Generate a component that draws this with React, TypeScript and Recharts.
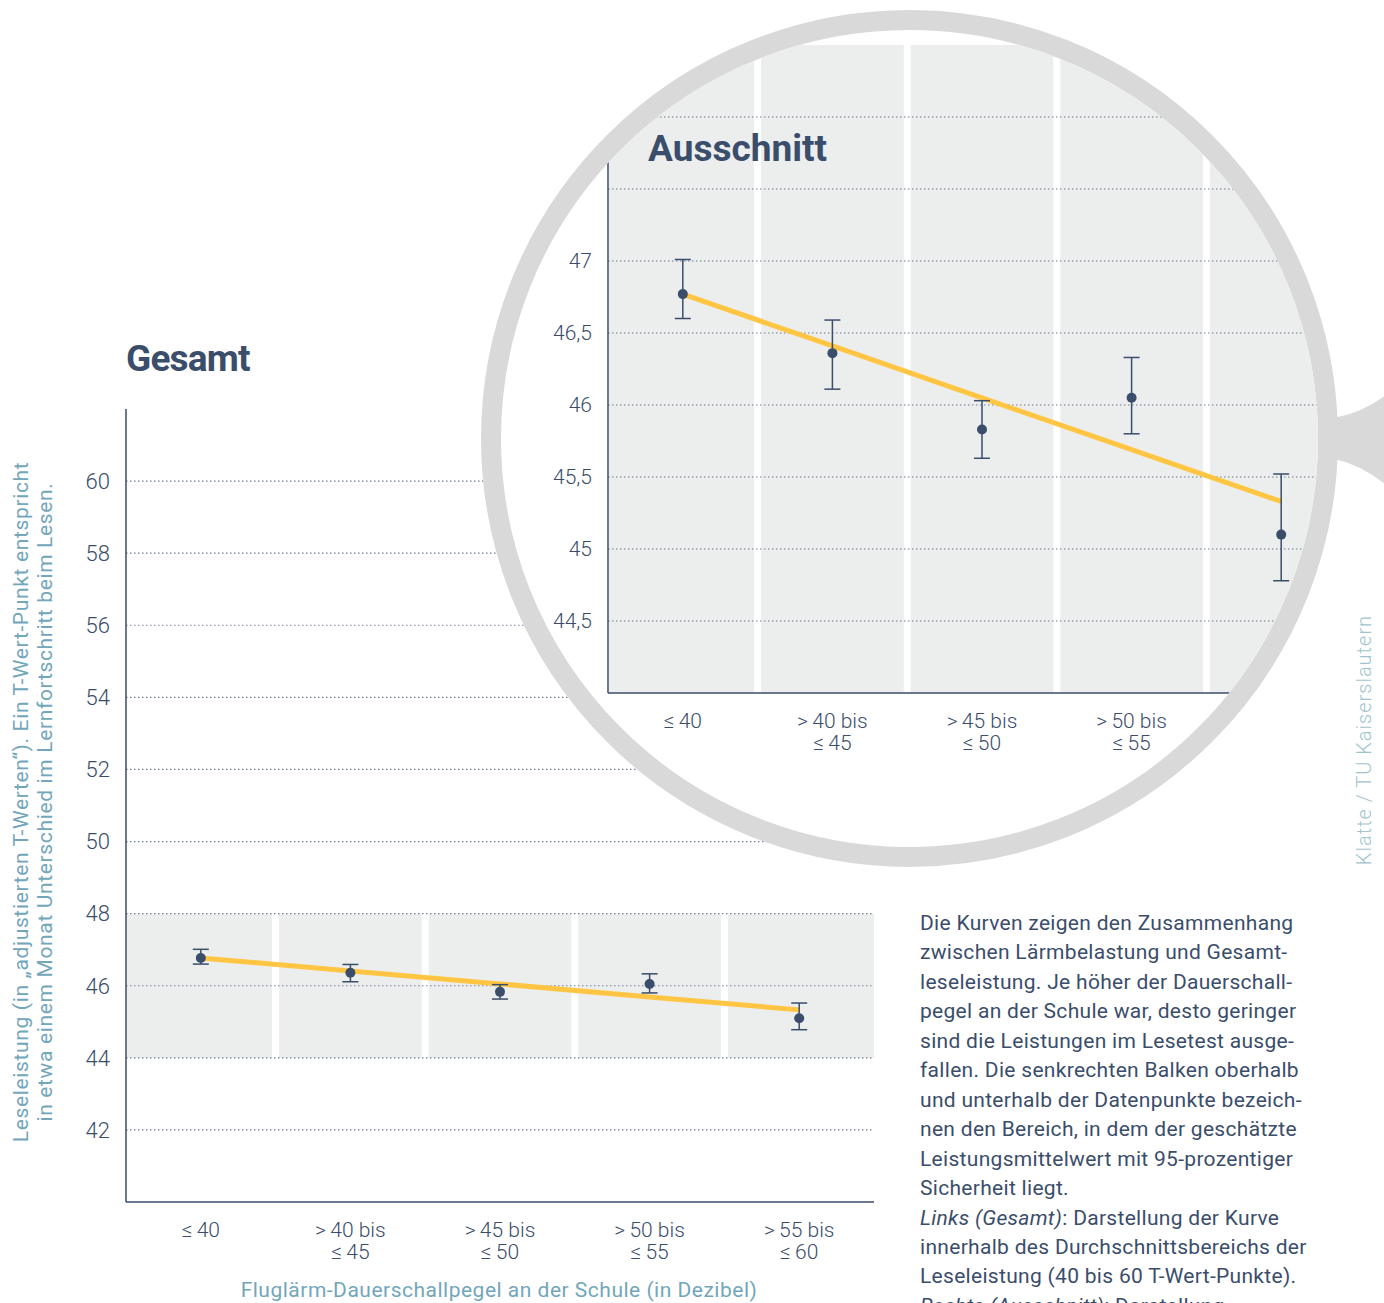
import React from "react"
import {
  ComposedChart,
  XAxis,
  YAxis,
  Line,
  Scatter,
  ErrorBar,
  ReferenceArea,
  ReferenceLine,
} from "recharts"

// categories: Fluglärm-Dauerschallpegel in dB
const CATEGORIES = [
  "≤\u200940",
  ">\u200940 bis\n≤\u200945",
  ">\u200945 bis\n≤\u200950",
  ">\u200950 bis\n≤\u200955",
  ">\u200955 bis\n≤\u200960",
]
const MEANS = [46.77, 46.36, 45.83, 46.05, 45.1]
const CI_LOW = [46.6, 46.11, 45.63, 45.8, 44.78]
const CI_HIGH = [47.01, 46.59, 46.03, 46.33, 45.52]
const TREND = [46.77, 46.41, 46.05, 45.69, 45.33]

const MAIN_TICKS = [42, 44, 46, 48, 50, 52, 54, 56, 58, 60]
const ZOOM_TICKS = [44.5, 45, 45.5, 46, 46.5, 47, 47.5, 48]

const TEXT_LINES = [
  "Die Kurven zeigen den Zusammenhang",
  "zwischen Lärmbelastung und Gesamt-",
  "leseleistung. Je höher der Dauerschall-",
  "pegel an der Schule war, desto geringer",
  "sind die Leistungen im Lesetest ausge-",
  "fallen. Die senkrechten Balken oberhalb",
  "und unterhalb der Datenpunkte bezeich-",
  "nen den Bereich, in dem der geschätzte",
  "Leistungsmittelwert mit 95-prozentiger",
  "Sicherheit liegt.",
]

const NAVY = "#3a4d6b"
const YELLOW = "#ffc543"
const BAND = "#eceeed"
const GRID = "#6f7d95"
const TEAL = "#72a6ba"
const CREDIT = "#9fc4d0"
const RING = "#d9d9d9"
const FONT = "Roboto, 'Noto Sans', sans-serif"

const rows = CATEGORIES.map((cat, i) => ({
  cat,
  mean: MEANS[i],
  err: [MEANS[i] - CI_LOW[i], CI_HIGH[i] - MEANS[i]],
  trend: TREND[i],
}))

function CatTick(props: any) {
  const { x, y, payload } = props
  const lines = String(payload.value).split("\n")
  return (
    <text
      x={x}
      y={y}
      textAnchor="middle"
      fill={NAVY}
      fontSize={21}
      fontWeight={300}
      fontFamily={FONT}
    >
      {lines.map((l, i) => (
        <tspan key={i} x={x} dy={i === 0 ? 35 : 22}>
          {l}
        </tspan>
      ))}
    </text>
  )
}

const bandShape = (i: number) => (p: any) => {
  const gap = 3.5
  const left = i === 0 ? p.x + 1 : p.x + gap
  const right = i === CATEGORIES.length - 1 ? p.x + p.width : p.x + p.width - gap
  return <rect x={left} y={p.y} width={right - left} height={p.height} fill={BAND} />
}

const dot = (p: any) => <circle cx={p.cx} cy={p.cy} r={5} fill={NAVY} />

const fmt = (v: number) => String(v).replace(".", ",")

function renderSeries() {
  return [
    <Line
      key="trend"
      dataKey="trend"
      stroke={YELLOW}
      strokeWidth={5}
      dot={false}
      activeDot={false}
      isAnimationActive={false}
    />,
    <Scatter key="mean" dataKey="mean" shape={dot} isAnimationActive={false}>
      <ErrorBar
        dataKey="err"
        direction="y"
        width={8}
        stroke={NAVY}
        strokeWidth={1.5}
        isAnimationActive={false}
      />
    </Scatter>,
  ]
}

function MainChart() {
  return (
    <ComposedChart
      width={844}
      height={892}
      data={rows}
      margin={{ top: 29, right: 10, bottom: 0, left: 0 }}
    >
      <XAxis
        dataKey="cat"
        scale="band"
        interval={0}
        height={70}
        tickLine={false}
        tickSize={0}
        tickMargin={0}
        tick={<CatTick />}
        axisLine={{ stroke: NAVY, strokeWidth: 1.5 }}
      />
      <YAxis
        domain={[40, 62]}
        ticks={MAIN_TICKS}
        width={86}
        tickLine={false}
        tickSize={0}
        tickMargin={16}
        axisLine={{ stroke: NAVY, strokeWidth: 1.5 }}
        tick={{ fill: NAVY, fontSize: 22, fontWeight: 300, fontFamily: FONT }}
      />
      {CATEGORIES.map((c, i) => (
        <ReferenceArea
          key={c}
          x1={c}
          x2={c}
          y1={44}
          y2={48}
          shape={bandShape(i)}
        />
      ))}
      {MAIN_TICKS.map((t) => (
        <ReferenceLine
          key={t}
          y={t}
          stroke={GRID}
          strokeWidth={1.2}
          strokeDasharray="1.5 2.5"
        />
      ))}
      {renderSeries()}
    </ComposedChart>
  )
}

function ZoomChart() {
  return (
    <ComposedChart
      width={900}
      height={743}
      data={rows}
      margin={{ top: 15, right: 64, bottom: 0, left: 0 }}
    >
      <XAxis
        dataKey="cat"
        scale="band"
        interval={0}
        height={80}
        tickLine={false}
        tickSize={0}
        tickMargin={0}
        tick={<CatTick />}
        axisLine={{ stroke: NAVY, strokeWidth: 1.5 }}
      />
      <YAxis
        domain={[44, 48.5]}
        ticks={ZOOM_TICKS}
        width={88}
        tickLine={false}
        tickSize={0}
        tickMargin={16}
        tickFormatter={(v: number) => (v > 47 ? "" : fmt(v))}
        axisLine={{ stroke: NAVY, strokeWidth: 1.5 }}
        tick={{ fill: NAVY, fontSize: 21, fontWeight: 300, fontFamily: FONT }}
      />
      {CATEGORIES.map((c, i) => (
        <ReferenceArea
          key={c}
          x1={c}
          x2={c}
          y1={44}
          y2={48.5}
          shape={bandShape(i)}
        />
      ))}
      {ZOOM_TICKS.map((t) => (
        <ReferenceLine
          key={t}
          y={t}
          stroke={GRID}
          strokeWidth={1.2}
          strokeDasharray="1.5 2.5"
        />
      ))}
      {renderSeries()}
    </ComposedChart>
  )
}

export default function App() {
  return (
    <div
      style={{
        position: "absolute",
        left: 0,
        top: 0,
        width: 1384,
        height: 1303,
        overflow: "hidden",
        background: "#fff",
        fontFamily: FONT,
      }}
    >
      <div style={{ position: "absolute", left: 40, top: 380 }}>
        <MainChart />
      </div>

      {/* magnifier */}
      <div
        style={{
          position: "absolute",
          left: 481,
          top: 10,
          width: 857,
          height: 857,
          boxSizing: "border-box",
          border: `20px solid ${RING}`,
          borderRadius: "50%",
          overflow: "hidden",
          background: "#fff",
        }}
      >
        <div style={{ position: "absolute", left: 19, top: 0 }}>
          <ZoomChart />
        </div>
      </div>

      <svg
        width={1384}
        height={1303}
        style={{ position: "absolute", left: 0, top: 0, pointerEvents: "none" }}
      >
        <path
          d="M1326 414 L1338 417 Q1364 412 1390 392 L1390 488 Q1364 466 1338 460 L1326 463 Z"
          fill={RING}
        />
        <text x={126} y={371} fontSize={37} fontWeight={700} fill={NAVY} fontFamily={FONT} letterSpacing={-0.8}>
          Gesamt
        </text>
        <text x={648} y={161} fontSize={37} fontWeight={700} fill={NAVY} fontFamily={FONT}>
          Ausschnitt
        </text>
        <g transform="translate(28 802) rotate(-90)" letterSpacing={0.65}>
          <text x={0} y={0} textAnchor="middle" fontSize={21} fill={TEAL} fontFamily={FONT}>
            Leseleistung (in „adjustierten T-Werten“). Ein T-Wert-Punkt entspricht
          </text>
          <text x={0} y={24} textAnchor="middle" fontSize={21} fill={TEAL} fontFamily={FONT}>
            in etwa einem Monat Unterschied im Lernfortschritt beim Lesen.
          </text>
        </g>
        <text
          x={499}
          y={1297}
          textAnchor="middle"
          fontSize={21}
          fill={TEAL}
          fontFamily={FONT}
          letterSpacing={0.5}
        >
          Fluglärm-Dauerschallpegel an der Schule (in Dezibel)
        </text>
        <text
          transform="translate(1371 740) rotate(-90)"
          textAnchor="middle"
          fontSize={20}
          fontWeight={300}
          fill={CREDIT}
          fontFamily={FONT}
          letterSpacing={1}
        >
          Klatte / TU Kaiserslautern
        </text>
        <g fontSize={21} fill={NAVY} fontFamily={FONT} letterSpacing={0.3}>
          {TEXT_LINES.map((l, i) => (
            <text key={i} x={920} y={930 + i * 29.45}>
              {l}
            </text>
          ))}
          <text x={920} y={930 + 10 * 29.45}>
            <tspan fontStyle="italic">Links (Gesamt)</tspan>: Darstellung der Kurve
          </text>
          <text x={920} y={930 + 11 * 29.45}>
            innerhalb des Durchschnittsbereichs der
          </text>
          <text x={920} y={930 + 12 * 29.45}>
            Leseleistung (40 bis 60 T-Wert-Punkte).
          </text>
          <text x={920} y={930 + 13 * 29.45}>
            <tspan fontStyle="italic">Rechts (Ausschnitt)</tspan>: Darstellung
          </text>
        </g>
      </svg>
    </div>
  )
}
